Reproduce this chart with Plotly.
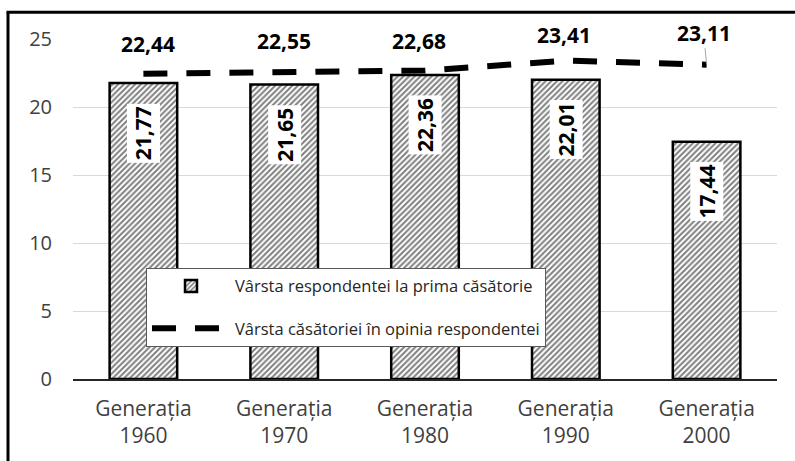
import plotly.graph_objects as go

categories = ["Generația<br>1960", "Generația<br>1970", "Generația<br>1980", "Generația<br>1990", "Generația<br>2000"]
age_first_marriage = [21.77, 21.65, 22.36, 22.01, 17.44]
age_opinion = [22.44, 22.55, 22.68, 23.41, 23.11]
bar_name = "Vârsta respondentei la prima căsătorie"
line_name = "Vârsta căsătoriei în opinia respondentei"
y_ticks = [0, 5, 10, 15, 20, 25]

FONT = "Open Sans"
TICK_COLOR = "#404040"


def fmt(v):
    return f"{v:.2f}".replace(".", ",")


fig = go.Figure()
fig.add_trace(go.Bar(
    x=categories, y=age_first_marriage, name=bar_name,
    width=0.48,
    marker=dict(color="white", line=dict(color="black", width=2.5),
                pattern=dict(shape="/", size=4, solidity=0.5, fgcolor="black", bgcolor="white")),
    legendgroup="a", hoverinfo="skip",
))
fig.add_trace(go.Scatter(
    x=categories, y=age_opinion, name=line_name, mode="lines",
    line=dict(color="black", width=6, dash="24px,19px"),
    legendgroup="b", hoverinfo="skip",
))

annotations = []
# bar value labels (rotated, white box)
for c, v in zip(categories, age_first_marriage):
    annotations.append(dict(
        x=c, y=v, xref="x", yref="y", text=f"<b>{fmt(v)}</b>", showarrow=False,
        textangle=-90, yshift=-50, bgcolor="white", borderpad=2,
        font=dict(family=FONT, size=21, color="black"),
    ))
# line value labels
line_dx = [5, 0, -6, -2, 0]
line_dy = [30, 31, 30, 26, 32]
for i, (c, v) in enumerate(zip(categories, age_opinion)):
    if i == len(categories) - 1:
        annotations.append(dict(
            x=c, y=v, xref="x", yref="y", text=f"<b>{fmt(v)}</b>", showarrow=True,
            arrowhead=0, arrowwidth=1, arrowcolor="#a6a6a6", ax=line_dx[i] - 3, ay=-line_dy[i],
            standoff=1,
            font=dict(family=FONT, size=21, color="black"),
        ))
    else:
        annotations.append(dict(
            x=c, y=v, xref="x", yref="y", text=f"<b>{fmt(v)}</b>", showarrow=False,
            xshift=line_dx[i], yshift=line_dy[i],
            font=dict(family=FONT, size=21, color="black"),
        ))

L, R, T, B = 73, 18, 39, 80
W, H = 795, 461
pw, ph = W - L - R, H - T - B


def px_x(px):
    return (px - L) / pw


def px_y(py):
    return (H - B - py) / ph


frame = dict(color="black", width=3)
fig.update_layout(
    width=W, height=H,
    margin=dict(l=L, r=R, t=T, b=B),
    paper_bgcolor="white", plot_bgcolor="white",
    font=dict(family=FONT, color=TICK_COLOR),
    showlegend=True,
    legend=dict(
        x=px_x(146), y=px_y(269), xanchor="left", yanchor="top",
        bgcolor="white", bordercolor="#595959", borderwidth=1,
        font=dict(family=FONT, size=16.5, color="#262626"),
        itemwidth=78, traceorder="grouped", tracegroupgap=18,
    ),
    annotations=annotations,
    shapes=[
        dict(type="line", xref="paper", yref="paper",
             x0=px_x(8), x1=px_x(8), y0=px_y(470), y1=px_y(12), line=frame, layer="above"),
        dict(type="line", xref="paper", yref="paper",
             x0=px_x(6.5), x1=px_x(800), y0=px_y(12), y1=px_y(12), line=frame, layer="above"),
    ],
    bargap=0.52,
)
fig.update_xaxes(
    showgrid=False, showline=True, linecolor="#262626", linewidth=1.5,
    tickfont=dict(family=FONT, size=21, color=TICK_COLOR),
    ticks="", ticklabelstandoff=10, fixedrange=True,
)
fig.update_yaxes(
    range=[0, 25], tickvals=y_ticks, showgrid=True, gridcolor="#d9d9d9", gridwidth=1,
    zeroline=False, showline=False,
    tickfont=dict(family=FONT, size=20, color=TICK_COLOR),
    ticks="", ticklabelstandoff=20, fixedrange=True,
)

fig.write_html(
    "out.html",
    config={"displayModeBar": False},
    post_script="document.body.style.margin='0';document.body.style.overflow='hidden';",
)
